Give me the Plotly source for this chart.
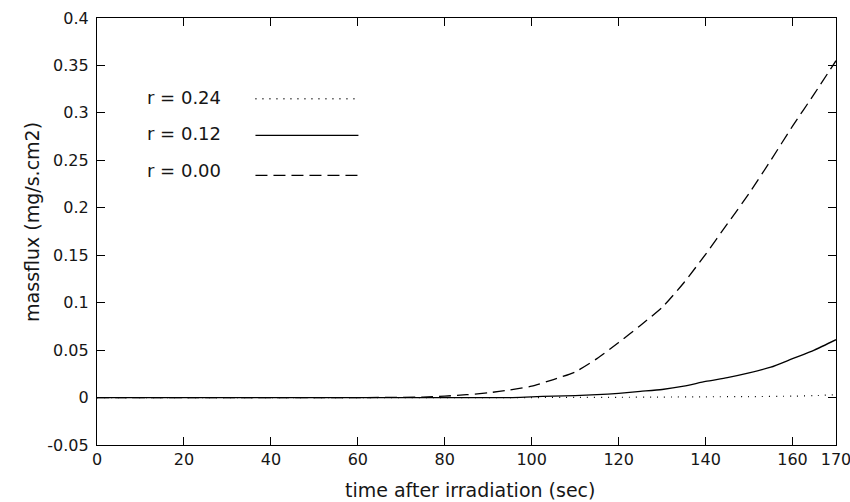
import plotly.graph_objects as go

# ---- data ----
t_r000 = [0, 60, 75, 80, 85, 90, 95, 100, 105, 110, 115, 120, 125, 130, 135, 140, 145, 150, 155, 160, 165, 170]
m_r000 = [0, 0, 0.0005, 0.0015, 0.003, 0.005, 0.008, 0.012, 0.019, 0.027, 0.041, 0.058, 0.076, 0.095,
          0.121, 0.151, 0.183, 0.215, 0.250, 0.286, 0.320, 0.355]

t_r012 = [0, 60, 95, 100, 105, 110, 115, 120, 125, 130, 135, 140, 145, 150, 155, 160, 165, 170]
m_r012 = [0, 0, 0, 0.0008, 0.0015, 0.002, 0.003, 0.0045, 0.0065, 0.0085, 0.012, 0.017, 0.021,
          0.026, 0.032, 0.041, 0.050, 0.061]

t_r024 = [0, 60, 100, 110, 120, 130, 140, 150, 160, 165, 170]
m_r024 = [0, 0, 0, 0.0002, 0.0003, 0.0005, 0.0008, 0.001, 0.0015, 0.002, 0.003]

legend_labels = ["r = 0.24", "r = 0.12", "r = 0.00"]

x_ticks = [0, 20, 40, 60, 80, 100, 120, 140, 160, 170]
x_ticktext = ["0", "20", "40", "60", "80", "100", "120", "140", "160", "170"]
y_ticks = [-0.05, 0, 0.05, 0.1, 0.15, 0.2, 0.25, 0.3, 0.35, 0.4]
y_ticktext = ["-0.05", "0", "0.05", "0.1", "0.15", "0.2", "0.25", "0.3", "0.35", "0.4"]

FONT = "DejaVu Sans"
INK = "#161616"

fig = go.Figure()
fig.add_trace(go.Scatter(x=t_r024, y=m_r024, mode="lines", name=legend_labels[0],
                         line=dict(color="black", width=1.2, dash="1px,6px", shape="spline", smoothing=0.6)))
fig.add_trace(go.Scatter(x=t_r000, y=m_r000, mode="lines", name=legend_labels[2],
                         line=dict(color="black", width=1.3, dash="12px,6px", shape="spline", smoothing=0.6)))
fig.add_trace(go.Scatter(x=t_r012, y=m_r012, mode="lines", name=legend_labels[1],
                         line=dict(color="black", width=1.3, shape="spline", smoothing=0.6)))

# plot area in pixels (for legend placement)
L, R, T, B = 96.5, 835.7, 17.5, 444.7
W, H = R - L, B - T
px = lambda x: (x - L) / W
py = lambda y: (B - y) / H

annotations = []
shapes = []
leg_text_y = [96.7, 133.3, 170.0]
leg_line_y = [98.3, 135.0, 175.0]
leg_dash = ["1px,6px", "solid", "12px,6px"]
for lab, ty, ly, d in zip(legend_labels, leg_text_y, leg_line_y, leg_dash):
    annotations.append(dict(x=px(145), y=py(ty), xref="paper", yref="paper", text=lab,
                            showarrow=False, xanchor="left", yanchor="middle",
                            font=dict(family=FONT, size=18, color=INK)))
    shapes.append(dict(type="line", xref="paper", yref="paper", x0=px(255), x1=px(358),
                       y0=py(ly), y1=py(ly), line=dict(color="black", width=1.3, dash=d)))

annotations.append(dict(x=px(470), y=py(490), xref="paper", yref="paper",
                        text="time after irradiation (sec)", showarrow=False,
                        xanchor="center", yanchor="middle",
                        font=dict(family=FONT, size=19, color=INK)))
annotations.append(dict(x=px(32), y=py(222), xref="paper", yref="paper",
                        text="massflux (mg/s.cm2)", showarrow=False, textangle=-90,
                        xanchor="center", yanchor="middle",
                        font=dict(family=FONT, size=19, color=INK)))

fig.update_layout(
    width=850, height=502,
    margin=dict(l=L, r=850 - R, t=T, b=502 - B, autoexpand=False),
    paper_bgcolor="white", plot_bgcolor="white",
    showlegend=False,
    annotations=annotations, shapes=shapes,
    font=dict(family=FONT, size=16, color=INK),
)
fig.update_xaxes(range=[0, 170.0001], tickvals=x_ticks, ticktext=x_ticktext, ticks="inside",
                 ticklen=8, tickwidth=1.2, tickcolor="black", showline=True, linecolor="black",
                 linewidth=1.2, mirror="ticks", showgrid=False, zeroline=False,
                 ticklabeloverflow="allow",
                 tickfont=dict(family=FONT, size=16, color=INK))
fig.update_yaxes(range=[-0.05, 0.4], tickvals=y_ticks, ticktext=y_ticktext, ticks="inside",
                 ticklen=8, tickwidth=1.2, tickcolor="black", showline=True, linecolor="black",
                 linewidth=1.2, mirror="ticks", showgrid=False, zeroline=False,
                 ticklabelstandoff=4,
                 tickfont=dict(family=FONT, size=16, color=INK))

fig.write_html("out.html")
